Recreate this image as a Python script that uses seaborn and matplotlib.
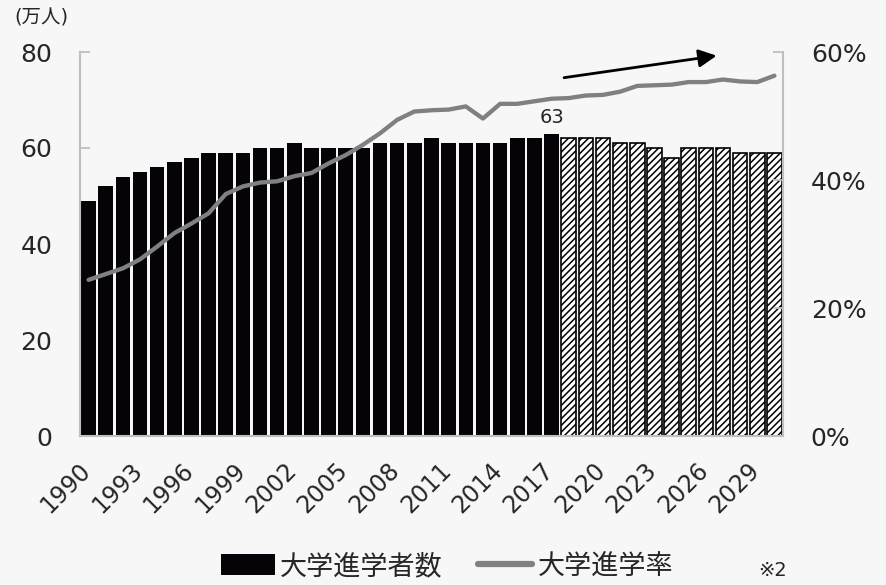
import numpy as np
import pandas as pd
import matplotlib
matplotlib.use("Agg")
import matplotlib.pyplot as plt
import matplotlib.transforms as mtransforms
import seaborn as sns
from matplotlib.patches import Patch
from matplotlib.lines import Line2D

# University entrants (10k persons) and university enrolment rate (%), 1990-2030
years = [str(y) for y in range(1990, 2031)]
entrants = [49, 52, 54, 55, 56, 57, 58, 59, 59, 59,
            60, 60, 61, 60, 60, 60, 60, 61, 61, 61,
            62, 61, 61, 61, 61, 62, 62, 63,
            62, 62, 62, 61, 61, 60, 58, 60, 60, 60, 59, 59, 59]
rate_pct = [24.4, 25.3, 26.2, 27.6, 29.6, 31.7, 33.2, 34.8, 37.8, 39.0,
            39.6, 39.8, 40.6, 41.1, 42.6, 43.9, 45.5, 47.3, 49.4, 50.7,
            50.9, 51.0, 51.5, 49.6, 51.9, 51.9, 52.3, 52.7, 52.8, 53.2,
            53.3, 53.8, 54.7, 54.8, 54.9, 55.3, 55.3, 55.7, 55.4, 55.3, 56.3]
last_actual_year = "2017"
tick_years = years[::3]

left_ticks = [0, 20, 40, 60, 80]
right_ticks = [0.0, 0.2, 0.4, 0.6]
right_labels = ["0%", "20%", "40%", "60%"]

series_labels = ["大学進学者数", "大学進学率"]
unit_label = "(万人)"
note_label = "※2"

BG = "#f7f7f7"
BAR = "#050308"
LINE = "#808080"
SPINE = "#bfbfbf"

sns.set_style("white")
plt.rcParams["font.family"] = ["DejaVu Sans", "Noto Sans CJK JP"]
plt.rcParams["hatch.linewidth"] = 1.1

df = pd.DataFrame({"year": years, "entrants": entrants,
                   "rate": np.array(rate_pct) / 100.0})
df["pos"] = np.arange(len(df))
n_actual = years.index(last_actual_year) + 1

fig = plt.figure(figsize=(8.86, 5.85), dpi=100, facecolor=BG)
ax = fig.add_axes([80 / 886, 1 - 436 / 585, 703 / 886, 384 / 585])
ax.set_facecolor(BG)

sns.barplot(data=df, x="year", y="entrants", order=years, color=BAR,
            saturation=1, width=0.85, ax=ax, linewidth=0)
for i, p in enumerate(ax.patches):
    if i >= n_actual:
        p.set_facecolor("white")
        p.set_edgecolor("black")
        p.set_linewidth(1.2)
        p.set_hatch("/////")
    else:
        p.set_facecolor(BAR)
        p.set_edgecolor("none")

ax.set_xlim(-0.5, len(years) - 0.5)
ax.set_ylim(0, 80)
ax.set_yticks(left_ticks)
ax.set_xticks(range(0, len(years), 3))
ax.set_xticklabels(tick_years, rotation=45, ha="right", fontsize=17)
ax.tick_params(axis="x", length=0, pad=16)
shift = mtransforms.ScaledTranslation(7 / 100, 0, fig.dpi_scale_trans)
for lbl in ax.get_xticklabels():
    lbl.set_transform(lbl.get_transform() + shift)
ax.tick_params(axis="y", direction="in", length=7, width=1.3, color=SPINE,
               labelsize=18, pad=20)
ax.set_xlabel("")
ax.set_ylabel("")
for side in ["top", "right"]:
    ax.spines[side].set_visible(False)
for side in ["left", "bottom"]:
    ax.spines[side].set_color(SPINE)
    ax.spines[side].set_linewidth(1.5)

# value label on the last actual bar
ia = n_actual - 1
ax.annotate(str(entrants[ia]), xy=(ia, entrants[ia]), xytext=(0, 5),
            textcoords="offset points", ha="center", va="bottom", fontsize=14)

# upward trend arrow
ax.annotate("", xy=(36.63, 79.23), xytext=(27.73, 74.65),
            arrowprops=dict(arrowstyle="-|>", color="black", lw=2,
                            mutation_scale=27, shrinkA=0, shrinkB=0))

ax2 = ax.twinx()
sns.lineplot(data=df, x="pos", y="rate", ax=ax2, color=LINE, linewidth=3.1,
             solid_joinstyle="round", solid_capstyle="round")
ax2.set_ylim(0, 0.6)
ax2.set_yticks(right_ticks)
ax2.set_yticklabels(right_labels)
ax2.set_ylabel("")
ax2.set_xlabel("")
ax2.tick_params(axis="y", direction="in", length=7, width=1.3, color=SPINE,
                labelsize=18, pad=20)
for side in ["top", "left", "bottom"]:
    ax2.spines[side].set_visible(False)
ax2.spines["right"].set_color(SPINE)
ax2.spines["right"].set_linewidth(1.5)
ax2.set_xlim(-0.5, len(years) - 0.5)

fig.text(14 / 886, 1 - 18 / 585, unit_label, ha="left", va="center",
         fontsize=14)

handles = [Patch(facecolor=BAR, edgecolor="none"),
           Line2D([], [], color=LINE, linewidth=4.5)]
fig.legend(handles=handles, labels=series_labels, loc="center",
           bbox_to_anchor=(447 / 886, 1 - 567 / 585), ncol=2, frameon=False,
           fontsize=19.5, handlelength=2.0, handleheight=0.8,
           handletextpad=0.2, columnspacing=1.3, borderpad=0)
fig.text(773 / 886, 1 - 571 / 585, note_label, ha="center", va="center",
         fontsize=14)

fig.savefig("out.png", dpi=100, facecolor=BG)
